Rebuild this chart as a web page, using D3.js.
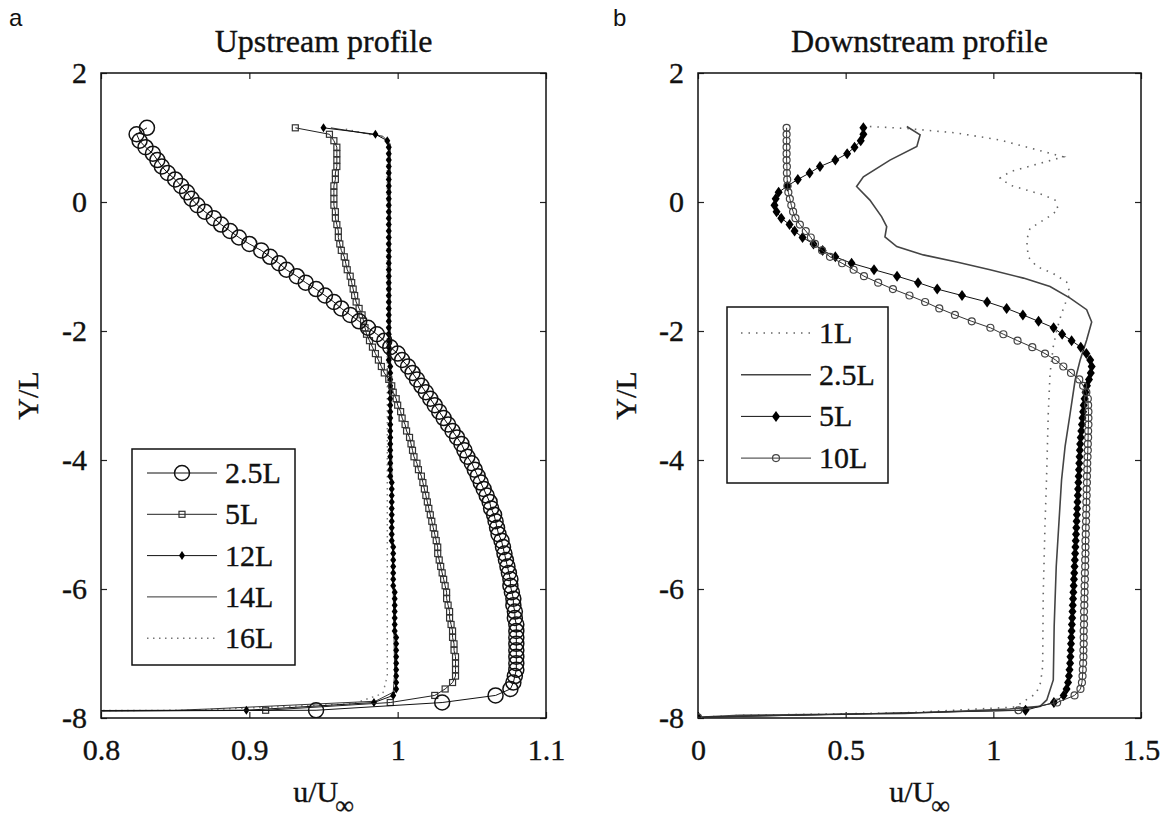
<!DOCTYPE html>
<meta charset="utf-8">
<style>
body { margin: 0; background: #fff; }
svg text { font-family: "Liberation Serif", "DejaVu Serif", serif; fill: #111; stroke: #111; stroke-width: 0.35px; }
svg text.letter { font-family: "Liberation Sans", Arial, sans-serif; font-size: 24px; stroke: none; }
.tick line { stroke: #222; stroke-width: 1.2px; }
.tick text { font-size: 30px; }
</style>
<svg width="1168" height="823"></svg>
<script src="https://d3js.org/d3.v7.min.js"></script>
<script>

// measurement stations (Y/L), shared by the marked profiles
var Ybody = [1.15,1.05,0.95,0.85,0.75,0.65,0.55,0.45,0.35,0.25,
  0.15,0.05,-0.05,-0.15,-0.25,-0.35,-0.45,-0.55,-0.65,-0.75,
  -0.85,-0.95,-1.05,-1.15,-1.25,-1.35,-1.45,-1.55,-1.65,-1.75,
  -1.85,-1.95,-2.05,-2.15,-2.25,-2.35,-2.45,-2.55,-2.65,-2.75,
  -2.85,-2.95,-3.05,-3.15,-3.25,-3.35,-3.45,-3.55,-3.65,-3.75,
  -3.85,-3.95,-4.05,-4.15,-4.25,-4.35,-4.45,-4.55,-4.65,-4.75,
  -4.85,-4.95,-5.05,-5.15,-5.25,-5.35,-5.45,-5.55,-5.65,-5.75,
  -5.85,-5.95,-6.05,-6.15,-6.25,-6.35,-6.45,-6.55,-6.65,-6.75,
  -6.85,-6.95,-7.05,-7.15,-7.25,-7.35,-7.45,-7.55,-7.65]
var tailUp = [-7.76,-7.88,-7.95]
var tailDown = [-7.76,-7.88,-7.99]

// upstream u/Uinf
var up25 = [0.831,0.824,0.826,0.830,0.835,0.838,0.841,0.845,0.850,0.854,
  0.858,0.861,0.865,0.870,0.876,0.881,0.887,0.893,0.900,0.908,
  0.914,0.920,0.925,0.932,0.938,0.945,0.951,0.957,0.962,0.968,
  0.974,0.980,0.986,0.991,0.995,1.000,1.003,1.007,1.010,1.013,
  1.016,1.019,1.022,1.025,1.028,1.031,1.034,1.037,1.040,1.043,
  1.045,1.047,1.050,1.052,1.054,1.056,1.058,1.060,1.062,1.063,
  1.065,1.066,1.067,1.068,1.070,1.071,1.072,1.073,1.074,1.075,
  1.076,1.076,1.077,1.078,1.078,1.079,1.079,1.080,1.080,1.080,
  1.080,1.080,1.080,1.080,1.080,1.079,1.078,1.076,1.066,
  1.030,0.945,0]
var up5 = [0.931,0.954,0.957,0.959,0.959,0.959,0.959,0.958,0.958,0.957,
  0.957,0.957,0.957,0.958,0.958,0.959,0.960,0.960,0.961,0.962,
  0.964,0.965,0.966,0.968,0.969,0.970,0.971,0.972,0.974,0.976,
  0.977,0.978,0.979,0.981,0.983,0.985,0.987,0.989,0.991,0.994,
  0.996,0.997,0.999,1.000,1.002,1.003,1.005,1.006,1.008,1.009,
  1.010,1.011,1.013,1.014,1.016,1.017,1.018,1.019,1.020,1.021,
  1.022,1.023,1.024,1.025,1.026,1.027,1.027,1.028,1.029,1.030,
  1.031,1.032,1.033,1.033,1.034,1.035,1.035,1.036,1.037,1.037,
  1.038,1.038,1.039,1.039,1.039,1.039,1.037,1.032,1.025,
  0.995,0.911,0]
var up12 = [0.950,0.985,0.993,0.994,0.994,0.994,0.994,0.994,0.994,0.994,
  0.994,0.994,0.994,0.994,0.994,0.994,0.994,0.994,0.994,0.994,
  0.994,0.994,0.994,0.994,0.994,0.994,0.994,0.994,0.994,0.994,
  0.994,0.994,0.994,0.994,0.994,0.994,0.994,0.995,0.995,0.995,
  0.995,0.995,0.995,0.995,0.995,0.995,0.995,0.995,0.995,0.995,
  0.995,0.995,0.995,0.995,0.995,0.996,0.996,0.996,0.996,0.996,
  0.996,0.996,0.996,0.996,0.996,0.997,0.997,0.997,0.997,0.997,
  0.997,0.997,0.998,0.998,0.998,0.998,0.998,0.998,0.998,0.999,
  0.999,0.999,0.999,0.999,0.999,0.999,0.999,0.999,0.997,
  0.984,0.898,0]
var up14 = [[0.955,1.15],[0.990,1.02],[0.995,0.9],[0.995,-2],[0.996,-4],[0.997,-6],
  [0.998,-7.3],[0.997,-7.6],[0.985,-7.74],[0.873,-7.86],[0.85,-7.88],[0,-7.94]]
var up16 = [[0.965,1.13],[0.990,1.0],[0.993,0.9],[0.993,-3],[0.993,-6],[0.993,-7.35],
  [0.990,-7.62],[0.970,-7.78],[0.860,-7.88],[0,-7.94]]

// downstream u/Uinf
var dn5 = [0.560,0.560,0.551,0.530,0.505,0.465,0.413,0.378,0.338,0.303,
  0.273,0.263,0.259,0.266,0.282,0.310,0.327,0.354,0.391,0.422,
  0.465,0.520,0.596,0.674,0.745,0.810,0.894,0.979,1.045,1.100,
  1.153,1.204,1.233,1.265,1.296,1.315,1.328,1.333,1.330,1.324,
  1.317,1.312,1.309,1.306,1.304,1.302,1.300,1.298,1.296,1.294,
  1.293,1.292,1.291,1.290,1.289,1.288,1.287,1.286,1.285,1.284,
  1.283,1.282,1.281,1.280,1.279,1.278,1.277,1.276,1.275,1.274,
  1.273,1.272,1.271,1.270,1.269,1.268,1.267,1.266,1.265,1.264,
  1.263,1.262,1.261,1.260,1.258,1.256,1.253,1.248,1.238,
  1.205,1.109,0]
var dn10 = [0.300,0.300,0.300,0.300,0.300,0.300,0.301,0.301,0.302,0.303,
  0.306,0.311,0.316,0.322,0.330,0.345,0.365,0.382,0.396,0.420,
  0.447,0.488,0.527,0.562,0.610,0.660,0.716,0.769,0.817,0.870,
  0.927,0.990,1.034,1.082,1.132,1.175,1.211,1.237,1.263,1.291,
  1.304,1.315,1.320,1.321,1.322,1.322,1.322,1.321,1.321,1.320,
  1.320,1.319,1.318,1.318,1.317,1.317,1.316,1.316,1.315,1.315,
  1.314,1.314,1.313,1.313,1.312,1.312,1.312,1.311,1.311,1.310,
  1.310,1.309,1.309,1.308,1.308,1.307,1.307,1.307,1.306,1.306,
  1.306,1.305,1.305,1.304,1.303,1.302,1.300,1.295,1.275,
  1.216,1.085,0]
var dn1 = [[0.582,1.17],[0.707,1.14],[0.876,1.07],[1.023,0.96],[1.147,0.81],[1.237,0.70],
  [1.158,0.60],[1.057,0.47],[1.023,0.37],[1.057,0.26],[1.169,0.11],[1.209,0.03],
  [1.220,-0.12],[1.181,-0.25],[1.124,-0.41],[1.113,-0.59],[1.118,-0.85],[1.147,-1.0],
  [1.203,-1.11],[1.248,-1.24],[1.260,-1.42],[1.248,-1.52],[1.231,-1.73],[1.215,-1.98],
  [1.203,-2.24],[1.192,-2.66],[1.186,-3.28],[1.180,-4.31],[1.175,-5.0],[1.169,-6.07],
  [1.167,-7.2],[1.160,-7.45],[1.145,-7.62],[1.073,-7.83],[0.70,-7.92],[0.14,-7.96],[0,-7.99]]
var dn25 = [[0.707,1.17],[0.752,1.04],[0.741,0.86],[0.650,0.65],[0.560,0.39],[0.537,0.24],
  [0.582,0.03],[0.622,-0.23],[0.639,-0.38],[0.633,-0.54],[0.673,-0.69],[0.763,-0.82],
  [0.876,-0.93],[0.989,-1.05],[1.102,-1.18],[1.192,-1.31],[1.260,-1.49],[1.316,-1.67],
  [1.333,-1.86],[1.316,-2.14],[1.294,-2.45],[1.277,-2.76],[1.260,-3.28],[1.243,-3.79],
  [1.231,-4.31],[1.213,-5.65],[1.206,-6.58],[1.203,-7.41],[1.181,-7.72],[1.158,-7.82],
  [1.055,-7.86],[0.70,-7.93],[0.14,-7.96],[0,-7.99]]

var yTicks = [2, 0, -2, -4, -6, -8]
var upTicks = [0.8, 0.9, 1, 1.1]
var downTicks = [0, 0.5, 1, 1.5]

var plotTop = 73, plotBottom = 718
var serif = '"Liberation Serif", "DejaVu Serif", serif'

var svg = d3.select('svg')

function addShape(sel, st) {
  if (st.marker === 'circle') {
    sel.append('circle').attr('r', st.size)
      .attr('fill', 'none').attr('stroke', st.color).attr('stroke-width', st.mw)
  } else if (st.marker === 'square') {
    sel.append('rect').attr('x', -st.size).attr('y', -st.size)
      .attr('width', 2 * st.size).attr('height', 2 * st.size)
      .attr('fill', 'none').attr('stroke', st.color).attr('stroke-width', st.mw)
  } else if (st.marker === 'diamond') {
    sel.append('path')
      .attr('d', 'M0,' + (-st.h) + 'L' + st.w + ',0L0,' + st.h + 'L' + (-st.w) + ',0Z')
      .attr('fill', st.color)
  }
}

function drawPanel(cfg) {
  var x = d3.scaleLinear().domain(cfg.xDomain).range([cfg.left, cfg.right])
  var y = d3.scaleLinear().domain([-8, 2]).range([plotBottom, plotTop])

  svg.append('clipPath').attr('id', cfg.id)
    .append('rect').attr('x', cfg.left).attr('y', plotTop)
    .attr('width', cfg.right - cfg.left).attr('height', plotBottom - plotTop)

  // axes (inward ticks on all four sides)
  var fmt = function (d) { return String(d) }
  var gb = svg.append('g').attr('transform', 'translate(0,' + plotBottom + ')')
    .call(d3.axisBottom(x).tickValues(cfg.ticks).tickSize(-6).tickSizeOuter(0).tickFormat(fmt))
  gb.selectAll('text').attr('dy', null).attr('y', 42)
  svg.append('g').attr('transform', 'translate(0,' + plotTop + ')')
    .call(d3.axisTop(x).tickValues(cfg.ticks).tickSize(-6).tickSizeOuter(0).tickFormat(''))
  svg.append('g').attr('transform', 'translate(' + cfg.left + ',0)')
    .call(d3.axisLeft(y).tickValues(yTicks).tickSize(-6).tickSizeOuter(0).tickPadding(14).tickFormat(fmt))
  svg.append('g').attr('transform', 'translate(' + cfg.right + ',0)')
    .call(d3.axisRight(y).tickValues(yTicks).tickSize(-6).tickSizeOuter(0).tickFormat(''))
  svg.selectAll('.domain').remove()
  svg.selectAll('.tick text').style('font-family', serif)

  svg.append('rect').attr('x', cfg.left).attr('y', plotTop)
    .attr('width', cfg.right - cfg.left).attr('height', plotBottom - plotTop)
    .attr('fill', 'none').attr('stroke', '#111').attr('stroke-width', 1.5)

  // series
  var g = svg.append('g').attr('clip-path', 'url(#' + cfg.id + ')')
  var line = d3.line().x(function (d) { return x(d[0]) }).y(function (d) { return y(d[1]) })
  cfg.series.forEach(function (s) {
    g.append('path').attr('d', line(s.pts)).attr('fill', 'none')
      .attr('stroke', s.style.lineColor).attr('stroke-width', s.style.lw)
      .attr('stroke-dasharray', s.style.dash || null)
    if (s.style.marker) {
      var m = g.append('g').selectAll('g').data(s.pts).join('g')
        .attr('transform', function (d) { return 'translate(' + x(d[0]) + ',' + y(d[1]) + ')' })
      addShape(m, s.style)
    }
  })

  // titles and labels
  svg.append('text').attr('class', 'letter').attr('x', cfg.letterX).attr('y', 26).text(cfg.letter)
  var cx = (cfg.left + cfg.right) / 2
  svg.append('text').attr('x', cx).attr('y', 52).attr('text-anchor', 'middle')
    .style('font-family', serif).style('font-size', '32px').text(cfg.title)
  svg.append('text').attr('transform', 'translate(' + cfg.yLabelX + ',' + ((plotTop + plotBottom) / 2) + ') rotate(-90)')
    .attr('text-anchor', 'middle').style('font-family', serif).style('font-size', '30px').text('Y/L')
  var xl = svg.append('text').attr('x', cx).attr('y', 802).attr('text-anchor', 'middle')
    .style('font-family', serif).style('font-size', '30px')
  xl.append('tspan').text('u/U')
  xl.append('tspan').attr('dx', -3).attr('dy', 12).style('font-size', '26px').text('\u221e')

  // legend
  var L = cfg.legend
  svg.append('rect').attr('x', L.x).attr('y', L.y).attr('width', L.w).attr('height', L.h)
    .attr('fill', '#fff').attr('stroke', '#111').attr('stroke-width', 1.5)
  cfg.series.slice().sort(function (a, b) { return a.order - b.order }).forEach(function (s, i) {
    var ey = L.first + i * L.step
    svg.append('line').attr('x1', L.x1).attr('x2', L.x2).attr('y1', ey).attr('y2', ey)
      .attr('stroke', s.style.lineColor).attr('stroke-width', s.style.lw)
      .attr('stroke-dasharray', s.style.dash || null)
    if (s.style.marker) {
      addShape(svg.append('g').attr('transform', 'translate(' + ((L.x1 + L.x2) / 2) + ',' + ey + ')'), s.style)
    }
    svg.append('text').attr('x', L.tx).attr('y', ey + 10)
      .style('font-family', serif).style('font-size', '30px').text(s.name)
  })
}

drawPanel({
  id: 'clipA', left: 101, right: 546, xDomain: [0.8, 1.1], ticks: upTicks,
  letter: 'a', letterX: 9, title: 'Upstream profile', yLabelX: 38,
  legend: { x: 132, y: 449, w: 163, h: 216, first: 473, step: 41.3, x1: 147, x2: 217, tx: 225 },
  series: [
    { name: '16L', order: 4, pts: up16, style: { lineColor: '#777', lw: 1.4, dash: '1.5,4.5' } },
    { name: '14L', order: 3, pts: up14, style: { lineColor: '#333', lw: 1 } },
    { name: '12L', order: 2, pts: d3.zip(up12, Ybody.concat(tailUp)),
      style: { lineColor: '#111', lw: 1, marker: 'diamond', w: 3, h: 4.5, color: '#000' } },
    { name: '5L', order: 1, pts: d3.zip(up5, Ybody.concat(tailUp)),
      style: { lineColor: '#222', lw: 1, marker: 'square', size: 3, color: '#333', mw: 1.2 } },
    { name: '2.5L', order: 0, pts: d3.zip(up25, Ybody.concat(tailUp)),
      style: { lineColor: '#111', lw: 1, marker: 'circle', size: 7.5, color: '#111', mw: 1.5 } }
  ]
})

drawPanel({
  id: 'clipB', left: 698, right: 1141, xDomain: [0, 1.5], ticks: downTicks,
  letter: 'b', letterX: 613, title: 'Downstream profile', yLabelX: 636,
  legend: { x: 727, y: 307, w: 161, h: 176, first: 333, step: 41.7, x1: 741, x2: 811, tx: 819 },
  series: [
    { name: '1L', order: 0, pts: dn1, style: { lineColor: '#666', lw: 1.6, dash: '1.5,6' } },
    { name: '2.5L', order: 1, pts: dn25, style: { lineColor: '#444', lw: 1.6 } },
    { name: '5L', order: 2, pts: d3.zip(dn5, Ybody.concat(tailDown)),
      style: { lineColor: '#111', lw: 1, marker: 'diamond', w: 4, h: 5.5, color: '#000' } },
    { name: '10L', order: 3, pts: d3.zip(dn10, Ybody.concat(tailDown)),
      style: { lineColor: '#333', lw: 1, marker: 'circle', size: 3.5, color: '#444', mw: 1.2 } }
  ]
})
</script>
